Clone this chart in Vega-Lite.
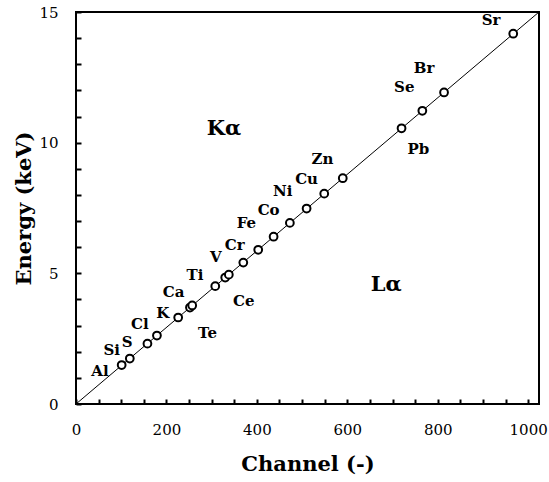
{
  "$schema": "https://vega.github.io/schema/vega-lite/v6.json",
  "width": 463,
  "height": 392,
  "autosize": "none",
  "padding": {"left": 76, "top": 12, "right": 10, "bottom": 78},
  "background": "white",
  "config": {
    "view": {"stroke": "black", "strokeWidth": 2},
    "font": "DejaVu Serif",
    "axis": {"ticks": true, "tickColor": "#000000", "tickWidth": 2, "tickSize": 5, "tickOpacity": 1}
  },
  "datasets": {
    "fit": [
      {"channel": 0, "energy": 0},
      {"channel": 1024, "energy": 15}
    ],
    "points": [
      {"element": "Al", "channel": 101, "energy": 1.49},
      {"element": "Si", "channel": 119, "energy": 1.74},
      {"element": "S", "channel": 158, "energy": 2.31},
      {"element": "Cl", "channel": 179, "energy": 2.62},
      {"element": "K", "channel": 226, "energy": 3.31},
      {"element": "Ca", "channel": 252, "energy": 3.69},
      {"element": "Te", "channel": 257, "energy": 3.77},
      {"element": "Ti", "channel": 308, "energy": 4.51},
      {"element": "Ce", "channel": 330, "energy": 4.84},
      {"element": "V", "channel": 338, "energy": 4.95},
      {"element": "Cr", "channel": 370, "energy": 5.41},
      {"element": "Mn", "channel": 403, "energy": 5.90},
      {"element": "Fe", "channel": 437, "energy": 6.40},
      {"element": "Co", "channel": 473, "energy": 6.93},
      {"element": "Ni", "channel": 510, "energy": 7.48},
      {"element": "Cu", "channel": 549, "energy": 8.05},
      {"element": "Zn", "channel": 590, "energy": 8.64},
      {"element": "Pb", "channel": 720, "energy": 10.55},
      {"element": "Se", "channel": 766, "energy": 11.22},
      {"element": "Br", "channel": 814, "energy": 11.92},
      {"element": "Sr", "channel": 967, "energy": 14.17}
    ],
    "labels": [
      {"text": "Al", "channel": 53, "energy": 1.26},
      {"text": "Si", "channel": 79, "energy": 2.07},
      {"text": "S", "channel": 113, "energy": 2.37},
      {"text": "Cl", "channel": 141, "energy": 3.06},
      {"text": "K", "channel": 192, "energy": 3.48},
      {"text": "Ca", "channel": 216, "energy": 4.29},
      {"text": "Ti", "channel": 263, "energy": 4.94},
      {"text": "V", "channel": 309, "energy": 5.63},
      {"text": "Cr", "channel": 351, "energy": 6.08},
      {"text": "Fe", "channel": 377, "energy": 6.93},
      {"text": "Co", "channel": 426, "energy": 7.42},
      {"text": "Ni", "channel": 457, "energy": 8.15},
      {"text": "Cu", "channel": 510, "energy": 8.61},
      {"text": "Zn", "channel": 545, "energy": 9.38},
      {"text": "Ce", "channel": 371, "energy": 3.94},
      {"text": "Te", "channel": 291, "energy": 2.72},
      {"text": "Pb", "channel": 757, "energy": 9.75},
      {"text": "Se", "channel": 726, "energy": 12.13},
      {"text": "Br", "channel": 770, "energy": 12.86},
      {"text": "Sr", "channel": 918, "energy": 14.7}
    ],
    "regions": [
      {"text": "Kα", "channel": 327, "energy": 10.52},
      {"text": "Lα", "channel": 686, "energy": 4.55}
    ]
  },
  "encoding": {
    "x": {
      "field": "channel",
      "type": "quantitative",
      "scale": {"domain": [0, 1024], "nice": false, "zero": false},
      "axis": {
        "title": "Channel (-)",
        "values": [0, 50, 100, 150, 200, 250, 300, 350, 400, 450, 500, 550, 600, 650, 700, 750, 800, 850, 900, 950, 1000],
        "labelExpr": "datum.value % 200 === 0 ? datum.label : ''",
        "format": "d",
        "grid": false,
        "domain": false,
        "zindex": 1,
        "offset": -5,
        "labelFont": "DejaVu Serif",
        "titleFont": "DejaVu Serif",
        "labelFontSize": 15,
        "labelColor": "black",
        "labelPadding": 18,
        "labelFlush": false,
        "labelOverlap": false,
        "titleFontSize": 21,
        "titleFontWeight": "bold",
        "titleColor": "black",
        "titlePadding": 16
      }
    },
    "y": {
      "field": "energy",
      "type": "quantitative",
      "scale": {"domain": [0, 15], "nice": false},
      "axis": {
        "title": "Energy (keV)",
        "values": [0, 1, 2, 3, 4, 5, 6, 7, 8, 9, 10, 11, 12, 13, 14, 15],
        "labelExpr": "datum.value % 5 === 0 ? datum.label : ''",
        "format": "d",
        "grid": false,
        "domain": false,
        "zindex": 1,
        "offset": -5,
        "labelFont": "DejaVu Serif",
        "titleFont": "DejaVu Serif",
        "labelFontSize": 15,
        "labelColor": "black",
        "labelPadding": 18,
        "labelOverlap": false,
        "labelFlush": false,
        "titleFontSize": 21,
        "titleFontWeight": "bold",
        "titleColor": "black",
        "titlePadding": 4
      }
    }
  },
  "layer": [
    {
      "data": {"name": "fit"},
      "mark": {"type": "line", "color": "black", "strokeWidth": 1}
    },
    {
      "data": {"name": "points"},
      "mark": {"type": "point", "shape": "circle", "filled": false, "fill": "white", "fillOpacity": 1, "stroke": "black", "strokeWidth": 2, "size": 60, "opacity": 1}
    },
    {
      "data": {"name": "labels"},
      "mark": {"type": "text", "font": "DejaVu Serif", "fontWeight": "bold", "fontSize": 15, "align": "center", "baseline": "middle", "color": "black"},
      "encoding": {"text": {"field": "text"}}
    },
    {
      "data": {"name": "regions"},
      "mark": {"type": "text", "font": "DejaVu Serif", "fontWeight": "bold", "fontSize": 21, "align": "center", "baseline": "middle", "color": "black"},
      "encoding": {"text": {"field": "text"}}
    }
  ]
}
